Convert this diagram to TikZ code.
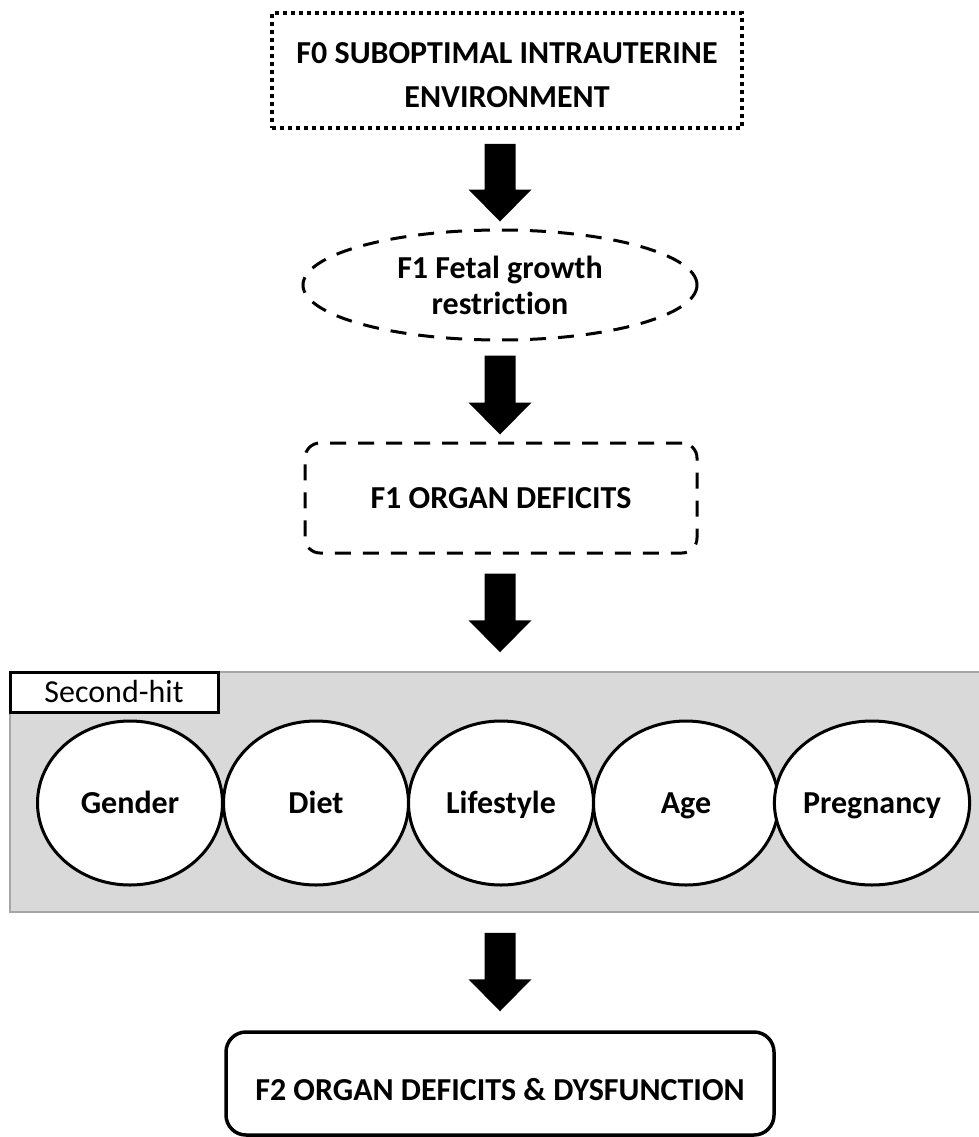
\documentclass[tikz,border=0pt]{standalone}
\usepackage{fontspec}
\setmainfont{Carlito}[Ligatures=NoCommon]
\usetikzlibrary{shapes.geometric,calc}
\definecolor{panelgray}{HTML}{D9D9D9}
\definecolor{paneledge}{HTML}{A6A6A6}
\tikzset{
  txt/.style={font=\fontsize{32}{44}\selectfont\bfseries, align=center, inner sep=0pt},
  oneline/.style={text height=20.6, text depth=0},
  dotbox/.style={txt, draw, line width=3.5, dash pattern=on 4 off 4, minimum width=470, minimum height=115, text height=73.6, text depth=0},
  dashell/.style={txt, font=\fontsize{32}{36}\selectfont\bfseries, ellipse, draw, line width=3, dash pattern=on 16 off 12, minimum width=394, minimum height=110},
  dashbox/.style={txt, oneline, draw, rounded corners=15, line width=3, dash pattern=on 16 off 12, minimum width=392, minimum height=110},
  finalbox/.style={txt, draw, rounded corners=20, line width=3.5, minimum width=548, minimum height=103, text height=33.6, text depth=0},
  panel/.style={draw=paneledge, fill=panelgray, line width=1.5, minimum width=971, minimum height=240, inner sep=0pt},
  hitlabel/.style={draw, fill=white, line width=3, minimum width=208, minimum height=40, inner sep=0pt, font=\fontsize{32}{38}\selectfont, text height=21, text depth=0},
  factor/.style={txt, oneline, ellipse, draw, fill=white, line width=3, minimum width=185, minimum height=164},
}
\newcommand\blockarrow[4]{%
  \path ($(axis |- #1.south)+(0,#3)$) coordinate (bt) ($(axis |- #2.north)+(0,-#4)$) coordinate (bh);
  \fill ($(bt)+(-15.5,0)$) -- ($(bt)+(15.5,0)$) -- ($(bh)+(15.5,-32)$) -- ($(bh)+(31.5,-32)$) -- (bh) -- ($(bh)+(-31.5,-32)$) -- ($(bh)+(-15.5,-32)$) -- cycle;
}
\begin{document}
\begin{tikzpicture}[x=1pt,y=-1pt]
\useasboundingbox (0,0) rectangle (978,1137);
\coordinate (axis) at (500,0);
\node[dotbox] (f0) at (507,70.5) {F0 SUBOPTIMAL INTRAUTERINE\\ENVIRONMENT};
\node[dashell] (fgr) at (500,285) {F1 Fetal growth\\restriction};
\node[dashbox] (od) at (501,498) {F1 ORGAN DEFICITS};
\node[panel] (panel) at (495.5,792) {};
\node[hitlabel] (hit) at (114,692) {Second-hit};
\node[factor] (gender) at (130,803) {Gender};
\node[factor] (diet) at (316,803) {Diet};
\node[factor] (life) at (501,803) {Lifestyle};
\node[factor] (age) at (686,803) {Age};
\node[factor] (preg) at (872,803) {Pregnancy};
\node[finalbox] (f2) at (500,1083.5) {F2 ORGAN DEFICITS \& DYSFUNCTION};
\blockarrow{f0}{fgr}{14}{7}
\blockarrow{fgr}{od}{14}{7}
\blockarrow{od}{panel}{19}{19}
\blockarrow{panel}{f2}{20}{19}
\end{tikzpicture}
\end{document}
